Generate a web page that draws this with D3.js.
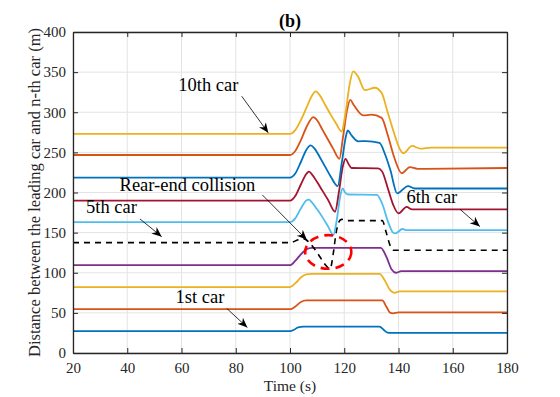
<!DOCTYPE html>
<html>
<head>
<meta charset="utf-8">
<script src="https://cdn.jsdelivr.net/npm/d3@7"></script>
<style>
  body { margin: 0; background: #fff; }
  svg text { font-family: 'Liberation Serif', 'DejaVu Serif', serif !important; }
</style>
</head>
<body>
<div id="container"></div>
<script>
// distance between leading car and n-th car, [time (s), distance (m)]
var car1 = [[20,27.3],[100,27.3],[101.5,29],[103,32],[105,32.8],[133,32.8],[134.5,29],[136,25.3],[137,25],[180,25]];
var car2 = [[20,54.6],[100,54.6],[102,58],[104,63.5],[106,65.5],[134,65.5],[135.5,58],[137,50],[138,49.5],[140,50.5],[180,50.5]];
var car3 = [[20,82],[100,82],[102,87],[104,94],[106,98],[108,98.5],[133,98.5],[135,90],[137,78],[138.5,75],[140.5,76.7],[180,76.7]];
var car4 = [[20,109.5],[100,109.5],[102,115],[104,123],[106,129],[108,131],[133.5,131],[135.5,120],[137.5,104],[139,100],[141,102],[180,102]];
var car5 = [[20,137.5],[100,137.5],[103,141],[105,142.5],[107,138],[109,130],[111,120],[113,110],[114.8,105],[116,125],[117,150],[118,163],[119,166.5],[121,165],[134,165],[135.5,150],[137,133],[138,128],[180,128]];
var car6 = [[20,163],[100,163],[102,168],[104,180],[106,190],[107,191],[108,188],[110,179],[112,169],[114,158],[116,147],[117.2,165],[118.5,195],[119.4,205],[120.3,200],[121.5,197.5],[132,197],[134,186],[136,165],[138,150],[138.8,149],[141.5,154.5],[143,153],[180,153]];
var car7 = [[20,190],[100,190],[102,196],[104,210],[106,223],[107,226],[108,223],[110,213],[112,202],[114,191],[116.6,176],[118,200],[119.5,233],[120.5,242],[121.5,236],[122.7,230.5],[132.5,230],[134,226],[136,206],[138,185],[140,174],[143,182],[145,179],[180,179]];
var car8 = [[20,218.5],[100,218.5],[102,224],[104,238],[106,253],[107.6,258.7],[109,255],[111,244],[113,232],[115,220],[117.6,208],[119,235],[120.5,268],[121.3,277.5],[122.5,272],[125.2,263.8],[128,264],[133,261.7],[135,248],[137,228],[139.5,199],[143.5,208],[146,205],[180,205]];
var car9 = [[20,246.7],[100,246.7],[102,252],[104,265],[106,281],[108.6,294],[110,290],[112,278],[114,266],[116,254],[118.2,242],[119.5,268],[121,302],[122.2,315.5],[123.5,309],[127,296],[130,297],[133.8,293],[136,272],[138.5,243],[141.2,224],[144.2,231.7],[147,229.5],[180,230.5]];
var car10 = [[20,273],[100,273],[102,278],[104,290],[106,305],[108,320],[109.5,326],[111,321],[113,309],[115,297],[117,286],[119,276],[120.5,300],[122,335],[123.3,351],[125,345],[127.6,327.5],[131.3,330.5],[133.8,324],[136,300],[138,278],[140.6,253.4],[141.8,249],[145,258],[148,254.6],[152,256],[180,256]];

var carSeries = [car1, car2, car3, car4, car5, car6, car7, car8, car9, car10];
var carColors = ["#0072BD","#D95319","#EDB120","#7E2F8E","#000000","#4DBEEE","#A2142F","#0072BD","#D95319","#EDB120"];
var dashedCar = 4;

var xTicks = [20, 40, 60, 80, 100, 120, 140, 160, 180];
var yTicks = [0, 50, 100, 150, 200, 250, 300, 350, 400];

// annotation labels: text, text anchor point, arrow start, arrow end (data coords)
var notes = [
  {label: "10th car", at: [69.9, 326], from: [82.2, 320], to: [92, 274.3]},
  {label: "Rear-end collision", at: [62.2, 202], from: [89.8, 197], to: [106.2, 141]},
  {label: "5th car", at: [34.2, 174.6], from: [44.7, 167], to: [52.7, 145]},
  {label: "6th car", at: [152.3, 186.7], from: [162.7, 179], to: [170, 157.5]},
  {label: "1st car", at: [66.8, 62.5], from: [76.7, 55.5], to: [84.3, 31.7]}
];
// collision marker ellipse: centre and radii in data units
var collision = {t: 114.1, v: 125.9, rt: 8.5, rv: 21};

var margin = {top: 32, right: 53, bottom: 44, left: 73},
    totalW = 560, totalH = 397,
    width = totalW - margin.left - margin.right,
    height = totalH - margin.top - margin.bottom;

var serif = "'Liberation Serif', 'DejaVu Serif', serif";

var svg = d3.select("#container")
  .append("svg")
  .attr("width", totalW)
  .attr("height", totalH)
  .attr("font-family", serif);

var defs = svg.append("defs");
defs.append("marker")
  .attr("id", "head")
  .attr("viewBox", "-10 -5 11 10")
  .attr("refX", 0)
  .attr("refY", 0)
  .attr("markerWidth", 11)
  .attr("markerHeight", 10)
  .attr("markerUnits", "userSpaceOnUse")
  .attr("orient", "auto")
  .append("path")
  .attr("d", "M0,0L-10,-4.2L-7,0L-10,4.2Z")
  .attr("fill", "#000");

defs.append("clipPath").attr("id", "clip")
  .append("rect").attr("width", width).attr("height", height);

var g = svg.append("g")
  .attr("transform", "translate(" + margin.left + "," + margin.top + ")");

var x = d3.scaleLinear().domain([20, 180]).range([0, width]);
var y = d3.scaleLinear().domain([0, 400]).range([height, 0]);

// grid
g.append("g")
  .selectAll("line")
  .data(xTicks)
  .enter().append("line")
  .attr("x1", function(d) { return x(d); })
  .attr("x2", function(d) { return x(d); })
  .attr("y1", 0)
  .attr("y2", height)
  .attr("stroke", "#e3e3e3")
  .attr("stroke-width", 1);

g.append("g")
  .selectAll("line")
  .data(yTicks)
  .enter().append("line")
  .attr("x1", 0)
  .attr("x2", width)
  .attr("y1", function(d) { return y(d); })
  .attr("y2", function(d) { return y(d); })
  .attr("stroke", "#e3e3e3")
  .attr("stroke-width", 1);

// curves
var line = d3.line()
  .x(function(d) { return x(d[0]); })
  .y(function(d) { return y(d[1]); })
  .curve(d3.curveMonotoneX);

g.append("g")
  .attr("clip-path", "url(#clip)")
  .selectAll("path")
  .data(carSeries)
  .enter().append("path")
  .attr("d", line)
  .attr("fill", "none")
  .attr("stroke", function(d, i) { return carColors[i]; })
  .attr("stroke-width", function(d, i) { return i == dashedCar ? 1.6 : 1.8; })
  .attr("stroke-dasharray", function(d, i) { return i == dashedCar ? "6,5" : null; });

// collision ellipse
g.append("ellipse")
  .attr("cx", x(collision.t))
  .attr("cy", y(collision.v))
  .attr("rx", x(collision.t + collision.rt) - x(collision.t))
  .attr("ry", y(collision.v - collision.rv) - y(collision.v))
  .attr("fill", "none")
  .attr("stroke", "#ff0000")
  .attr("stroke-width", 2.6)
  .attr("stroke-dasharray", "9,6");

// axes (box with inward ticks)
function styleAxis(sel) {
  sel.attr("font-family", serif).attr("font-size", 15);
  sel.select(".domain").attr("stroke", "#262626").attr("stroke-width", 1.3);
  sel.selectAll(".tick line").attr("stroke", "#262626").attr("stroke-width", 1);
  sel.selectAll(".tick text").attr("fill", "#262626");
}

g.append("g")
  .attr("transform", "translate(0," + height + ")")
  .call(d3.axisBottom(x).tickValues(xTicks).tickSize(-5).tickPadding(9).tickSizeOuter(0))
  .call(styleAxis);

g.append("g")
  .call(d3.axisTop(x).tickValues(xTicks).tickSize(-5).tickFormat("").tickSizeOuter(0))
  .call(styleAxis);

g.append("g")
  .call(d3.axisLeft(y).tickValues(yTicks).tickSize(-5).tickPadding(7).tickSizeOuter(0))
  .call(styleAxis);

g.append("g")
  .attr("transform", "translate(" + width + ",0)")
  .call(d3.axisRight(y).tickValues(yTicks).tickSize(-5).tickFormat("").tickSizeOuter(0))
  .call(styleAxis);

// annotations
var ann = g.append("g");
ann.selectAll("line")
  .data(notes)
  .enter().append("line")
  .attr("x1", function(d) { return x(d.from[0]); })
  .attr("y1", function(d) { return y(d.from[1]); })
  .attr("x2", function(d) { return x(d.to[0]); })
  .attr("y2", function(d) { return y(d.to[1]); })
  .attr("stroke", "#000")
  .attr("stroke-width", 0.8)
  .attr("marker-end", "url(#head)");

ann.selectAll("text")
  .data(notes)
  .enter().append("text")
  .attr("x", function(d) { return x(d.at[0]); })
  .attr("y", function(d) { return y(d.at[1]); })
  .attr("text-anchor", "middle")
  .attr("font-size", "18.5px")
  .attr("fill", "#000")
  .text(function(d) { return d.label; });

// labels
g.append("text")
  .attr("x", width / 2)
  .attr("y", -5)
  .attr("text-anchor", "middle")
  .attr("font-size", "18px")
  .attr("font-weight", "bold")
  .attr("fill", "#000")
  .text("(b)");

g.append("text")
  .attr("x", width / 2)
  .attr("y", height + 38)
  .attr("text-anchor", "middle")
  .attr("font-size", "15.5px")
  .attr("fill", "#262626")
  .text("Time (s)");

g.append("text")
  .attr("transform", "translate(" + (-33) + "," + (height / 2) + ") rotate(-90)")
  .attr("text-anchor", "middle")
  .attr("font-size", "16.5px")
  .attr("fill", "#262626")
  .text("Distance between the leading car and n-th car (m)");
</script>
</body>
</html>
